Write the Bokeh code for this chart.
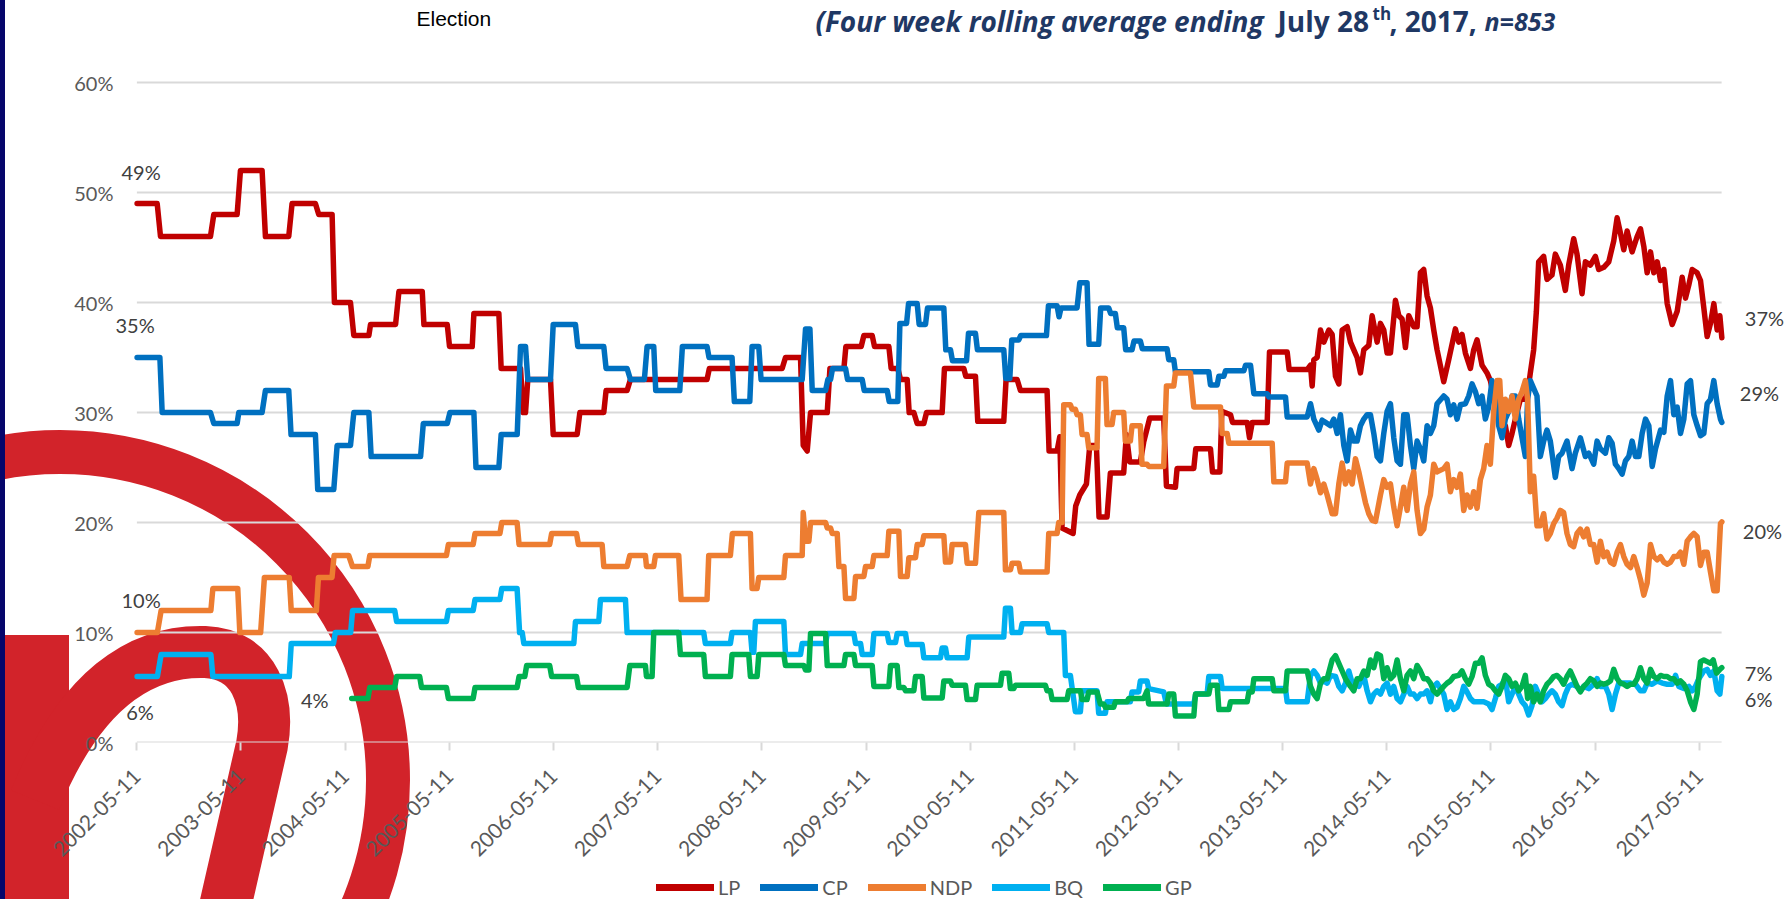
import math, base64
from datetime import datetime
from bokeh.plotting import figure
from bokeh.layouts import column
from bokeh.models import (Range1d, FixedTicker, DatetimeTickFormatter, PrintfTickFormatter,
                          Label, Legend, LegendItem)
from bokeh.embed import file_html
from bokeh.resources import INLINE

# ---------------- data (decimal year, percent) ----------------
LP_T = [2002.358,2002.551,2002.583,2003.063,2003.095,2003.319,2003.351,2003.559,2003.591,2003.815,
        2003.847,2004.071,2004.103,2004.231,2004.253,2004.407,2004.439,2004.583,2004.599,2004.839,
        2004.871,2005.095,2005.111,2005.335,2005.357,2005.575,2005.591,2005.831,2005.853,2006.039,
        2006.065,2006.087,2006.109,2006.327,2006.353,2006.583,2006.609,2006.839,2006.861,2007.063,
        2007.095,2007.831,2007.853,2008.551,2008.583,2008.727,2008.753,2008.791,2008.823,2008.983,
        2009.009,2009.143,2009.162,2009.309,2009.335,2009.415,2009.437,2009.575,2009.597,2009.661,
        2009.687,2009.751,2009.770,2009.815,2009.847,2009.911,2009.937,2010.087,2010.109,2010.295,
        2010.314,2010.407,2010.429,2010.679,2010.701,2010.807,2010.839,2011.095,2011.114,2011.191,
        2011.217,2011.239,2011.345,2011.370,2011.409,2011.473,2011.505,2011.569,2011.594,2011.671,
        2011.703,2011.831,2011.857,2011.889,2011.991,2012.023,2012.081,2012.215,2012.241,2012.327,
        2012.343,2012.503,2012.522,2012.663,2012.682,2012.753,2012.772,2012.855,2012.874,2013.015,
        2013.037,2013.063,2013.207,2013.229,2013.399,2013.418,2013.591,
        2013.623,2013.639,2013.655,2013.687,2013.719,2013.751,2013.799,2013.831,2013.863,2013.895,
        2013.927,2013.975,2014.007,2014.039,2014.071,2014.103,2014.135,2014.183,2014.215,2014.263,
        2014.295,2014.327,2014.359,2014.391,2014.439,2014.471,2014.503,2014.535,2014.567,2014.615,
        2014.647,2014.679,2014.711,2014.743,2014.775,2014.807,2014.839,2014.903,2014.951,2015.015,
        2015.047,2015.079,2015.111,2015.159,2015.191,2015.223,2015.271,2015.319,2015.351,2015.383,
        2015.431,2015.463,2015.495,2015.527,2015.559,2015.591,2015.639,2015.687,2015.719,2015.735,
        2015.767,2015.793,2015.815,2015.863,2015.895,2015.943,2015.975,2016.023,2016.071,2016.103,
        2016.151,2016.183,2016.231,2016.263,2016.311,2016.359,2016.391,2016.439,2016.487,2016.535,
        2016.567,2016.599,2016.631,2016.663,2016.711,2016.759,2016.791,2016.823,2016.855,2016.887,
        2016.919,2016.951,2016.983,2017.015,2017.047,2017.095,2017.143,2017.191,2017.223,2017.255,
        2017.287,2017.335,2017.367,2017.399,2017.431,2017.463,2017.495,2017.527,2017.553,2017.572]
LP_V = [49,49,46,46,48,48,52,52,46,46,
        49,49,48,48,40,40,37,37,38,38,
        41,41,38,38,36,36,39,39,34,34,
        30,30,33,33,28,28,30,30,32,32,
        33,33,34,34,35,35,27,26.5,30,30,
        34,34,36,36,37,37,36,36,34,34,
        33,33,30,30,29,29,30,30,34,34,
        33.3,33.3,29.2,29.2,33,33,32,32,26.5,26.5,
        27.8,19.5,19,21.5,22.5,23.5,27,27,20.5,20.5,
        24.5,24.5,28,25.5,25.5,27.3,29.5,29.5,23.3,23.2,
        24.9,24.9,26.7,26.7,24.6,24.6,30.1,29.8,29.1,29.1,
        27.7,29.1,29.1,35.5,35.5,33.9,33.9,
        34.3,32.4,34.8,35.0,37.5,36.4,37.5,37.1,33.3,32.6,
        37.5,37.8,36.4,35.7,35.0,33.6,35.7,36.1,38.8,36.4,
        38.1,37.5,35.4,35.4,40.2,38.8,38.5,35.9,38.8,37.8,
        37.8,42.7,43.0,40.6,39.5,37.5,35.7,32.8,34.8,37.6,
        36.4,37.1,35.4,34.0,35.7,36.6,34.3,33.6,32.9,31.5,
        29.4,28.1,28.8,27.0,28.1,29.4,31.2,31.2,32.5,33.6,
        35.7,39.2,43.7,44.2,42.1,42.5,44.4,43.4,41.1,43.4,
        45.8,44.4,40.8,43.7,43.4,44.2,43.0,43.2,43.7,45.6,
        47.7,46.3,44.8,46.5,44.6,46.0,46.7,45.1,42.7,44.6,
        42.7,43.7,42.0,43.0,39.9,38.0,39.2,42.3,40.4,41.6,
        43.0,42.7,42.0,39.5,36.9,38.1,39.9,37.5,38.8,36.8]

CP_T = [2002.358,2002.577,2002.599,2003.063,2003.095,2003.319,2003.335,2003.559,2003.591,2003.815,
        2003.837,2004.071,2004.093,2004.247,2004.279,2004.407,2004.439,2004.583,2004.605,2005.079,
        2005.105,2005.335,2005.361,2005.591,2005.611,2005.831,2005.853,2006.007,2006.039,2006.087,
        2006.109,2006.327,2006.353,2006.567,2006.589,2006.839,2006.861,2007.063,2007.095,2007.229,
        2007.255,2007.319,2007.338,2007.569,2007.594,2007.831,2007.850,2008.071,2008.093,2008.241,
        2008.263,2008.327,2008.349,2008.743,2008.775,2008.817,2008.839,2008.967,2008.989,2009.015,
        2009.034,2009.159,2009.178,2009.319,2009.338,2009.559,2009.578,2009.661,2009.681,2009.745,
        2009.764,2009.847,2009.866,2009.927,2009.946,2010.103,2010.122,2010.167,2010.186,2010.321,
        2010.340,2010.407,2010.426,2010.679,2010.698,2010.737,2010.756,2010.823,2010.842,2011.089,
        2011.108,2011.191,2011.210,2011.229,2011.383,2011.409,2011.479,2011.498,2011.591,2011.610,
        2011.687,2011.706,2011.751,2011.770,2011.831,2011.850,2011.911,2011.930,2011.991,2012.010,
        2012.247,2012.263,2012.311,2012.327,2012.647,2012.663,2012.727,2012.743,2012.791,2012.807,
        2012.983,2012.999,2013.047,2013.079,2013.207,2013.223,2013.383,2013.399,2013.591,
        2013.623,2013.655,2013.703,2013.735,2013.767,2013.815,2013.847,2013.879,2013.911,2013.943,
        2013.975,2014.007,2014.039,2014.071,2014.103,2014.135,2014.167,2014.199,2014.231,2014.263,
        2014.295,2014.327,2014.359,2014.391,2014.423,2014.455,2014.487,2014.519,2014.551,2014.583,
        2014.615,2014.647,2014.679,2014.711,2014.743,2014.775,2014.807,2014.839,2014.903,2014.935,
        2014.967,2014.999,2015.031,2015.063,2015.111,2015.143,2015.175,2015.207,2015.239,2015.271,
        2015.303,2015.335,2015.367,2015.399,2015.431,2015.463,2015.495,2015.527,2015.559,2015.591,
        2015.623,2015.655,2015.687,2015.709,2015.735,2015.767,2015.799,2015.831,2015.863,2015.895,
        2015.927,2015.975,2016.007,2016.039,2016.087,2016.135,2016.167,2016.215,2016.263,2016.295,
        2016.343,2016.375,2016.407,2016.455,2016.487,2016.519,2016.551,2016.583,2016.615,2016.647,
        2016.679,2016.711,2016.743,2016.775,2016.807,2016.839,2016.871,2016.903,2016.935,2016.983,
        2017.015,2017.047,2017.079,2017.111,2017.143,2017.175,2017.207,2017.239,2017.271,2017.303,
        2017.335,2017.367,2017.399,2017.431,2017.463,2017.495,2017.527,2017.559,2017.572]
CP_V = [35,35,30,30,29,29,30,30,32,32,
        28,28,23,23,27,27,30,30,26,26,
        29,29,30,30,25,25,28,28,36,36,
        33,33,38,38,36,36,34,34,33,33,
        36,36,32,32,36,36,35,35,31,31,
        36,36,33,33,37.6,37.6,32,32,33,33,
        34,34,33,33,32,32,31,31,38.1,38.1,
        39.9,39.9,38,38,39.5,39.5,35.7,35.7,34.7,34.7,
        37.2,37.2,35.7,35.7,33.1,33.1,36.6,36.6,37,37,
        39.7,39.7,38.7,39.5,39.5,41.8,41.8,36.2,36.2,39.5,
        39.5,39,39,37.7,37.7,35.7,35.7,36.5,36.5,35.8,
        35.8,34.8,34.8,33.7,33.7,32.5,32.5,33.3,33.3,33.8,
        33.8,34.3,34.3,31.7,31.7,31.4,31.4,29.6,29.6,
        30.8,29.4,28.4,29.3,29.1,28.8,29.4,28.1,29.8,27.0,
        25.6,28.4,27.4,27.4,28.8,29.4,29.8,29.8,28.1,26.0,
        25.6,28.1,30.1,30.8,27.7,25.6,25.3,29.8,29.8,27.0,
        24.9,27.4,26.7,25.6,28.8,28.1,28.8,30.8,31.5,31.2,
        29.8,30.7,29.4,30.7,30.8,31.5,32.6,31.9,30.8,31.5,
        29.4,30.5,32.9,31.5,28.8,27.7,29.4,30.1,31.5,31.5,
        29.4,27.7,26.0,31.2,32.9,32.2,31.5,26.0,27.4,28.4,
        27.4,24.1,26.0,26.3,27.4,24.9,26.3,27.7,26.0,26.3,
        25.3,27.4,26.7,26.3,27.7,27.2,25.3,24.9,24.4,25.6,
        26.0,27.4,26.0,26.0,28.1,29.4,28.8,25.1,26.7,28.4,
        28.2,31.5,32.9,29.8,30.5,28.1,29.4,32.6,32.9,29.8,
        28.8,27.9,28.1,30.8,31.2,32.9,30.8,29.4,29.1]

NDP_T = [2002.358,2002.553,2002.589,2003.067,2003.086,2003.325,2003.345,2003.545,2003.581,2003.820,
         2003.839,2004.080,2004.100,2004.230,2004.250,2004.390,2004.426,2004.574,2004.592,2005.327,
         2005.346,2005.584,2005.602,2005.841,2005.859,2006.006,2006.025,2006.319,2006.338,2006.577,
         2006.595,2006.823,2006.839,2007.063,2007.089,2007.239,2007.249,2007.319,2007.335,2007.559,
         2007.581,2007.831,2007.847,2008.055,2008.074,2008.247,2008.263,2008.311,2008.327,2008.567,
         2008.583,2008.743,2008.753,2008.775,2008.807,2008.823,2008.967,2008.983,2009.015,2009.031,
         2009.079,2009.095,2009.143,2009.159,2009.239,2009.255,2009.335,2009.351,2009.415,2009.431,
         2009.559,2009.575,2009.671,2009.687,2009.751,2009.767,2009.831,2009.847,2009.895,2009.911,
         2010.103,2010.119,2010.167,2010.183,2010.311,2010.327,2010.407,2010.439,2010.679,2010.695,
         2010.743,2010.759,2010.823,2010.839,2011.095,2011.111,2011.191,2011.207,2011.239,2011.255,
         2011.319,2011.335,2011.367,2011.383,2011.415,2011.431,2011.479,2011.495,2011.575,2011.591,
         2011.655,2011.671,2011.719,2011.735,2011.831,2011.847,2011.895,2011.911,2011.991,2012.007,
         2012.055,2012.071,2012.215,2012.241,2012.311,2012.327,2012.471,2012.503,2012.759,2012.775,
         2012.823,2012.839,2013.255,2013.271,2013.383,2013.399,2013.591,
         2013.623,2013.655,2013.687,2013.719,2013.751,2013.783,2013.831,2013.863,2013.895,2013.927,
         2013.959,2013.991,2014.023,2014.055,2014.087,2014.119,2014.151,2014.183,2014.215,2014.247,
         2014.295,2014.327,2014.359,2014.391,2014.423,2014.455,2014.487,2014.519,2014.551,2014.583,
         2014.615,2014.647,2014.679,2014.711,2014.743,2014.775,2014.807,2014.839,2014.903,2014.935,
         2014.967,2014.999,2015.031,2015.063,2015.095,2015.127,2015.159,2015.191,2015.223,2015.255,
         2015.287,2015.319,2015.351,2015.383,2015.415,2015.441,2015.463,2015.495,2015.527,2015.559,
         2015.591,2015.623,2015.655,2015.687,2015.709,2015.735,2015.767,2015.799,2015.831,2015.863,
         2015.895,2015.927,2015.959,2015.991,2016.023,2016.055,2016.087,2016.119,2016.151,2016.183,
         2016.215,2016.247,2016.279,2016.311,2016.343,2016.375,2016.407,2016.439,2016.471,2016.503,
         2016.535,2016.567,2016.599,2016.631,2016.663,2016.695,2016.727,2016.759,2016.791,2016.823,
         2016.855,2016.887,2016.919,2016.951,2016.983,2017.015,2017.047,2017.079,2017.111,2017.143,
         2017.175,2017.207,2017.239,2017.271,2017.303,2017.335,2017.367,2017.399,2017.431,2017.463,
         2017.495,2017.527,2017.559,2017.572]
NDP_V = [10,10,12,12,14,14,10,10,15,15,
         12,12,15,15,17,17,16,16,17,17,
         18,18,19,19,20,20,18,18,19,19,
         18,18,16,16,17,17,16,16,17,17,
         13,13,17,17,19,19,14,14,15,15,
         17,17,20.9,18.3,18.3,20,20,19.5,19.5,19,
         19,16,16,13.1,13.1,15.1,15.1,16,16,17,
         17,19.2,19.2,15.1,15.1,16.8,16.8,18,18,18.8,
         18.8,16.4,16.4,18,18,16.3,16.3,20.9,20.9,15.7,
         15.7,16.3,16.3,15.5,15.5,19,19,20,20,30.7,
         30.7,30.3,30.3,29.8,29.8,28,28,26.8,26.8,33.1,
         33.1,28.9,28.9,30,30,27.4,27.4,28.8,28.8,25.3,
         25.3,25.1,25.1,32.4,32.4,33.6,33.6,30.5,30.5,28.1,
         28.1,27.2,27.2,23.7,23.7,25.4,25.4,
         23.5,24.9,23.9,22.7,23.5,22.5,20.8,20.8,23.5,25.4,
         23.5,24.6,23.5,25.8,24.6,23.2,21.8,20.8,20.2,20.1,
         22.5,23.9,23.2,23.5,21.4,19.7,21.4,23.2,21.1,23.5,
         24.6,21.1,19.0,19.4,21.4,22.5,25.3,24.6,24.9,25.3,
         22.8,23.9,23.2,24.4,21.1,22.5,21.4,22.8,21.3,23.9,
         24.9,27.0,25.3,30.1,32.9,32.9,28.8,31.2,30.1,31.5,
         29.4,31.2,31.9,32.9,31.2,22.8,24.2,19.7,19.7,20.8,
         18.5,19.0,19.9,20.4,21.1,20.9,19.0,18.0,17.8,19.0,
         19.4,18.7,19.4,18.0,18.0,16.4,18.3,16.9,17.3,16.4,
         16.2,17.3,18.0,16.9,16.2,15.9,16.9,15.9,14.8,13.4,
         14.5,18.0,16.9,16.6,16.9,16.4,16.2,16.4,16.9,16.9,
         17.3,16.2,18.3,18.7,19.0,18.7,16.1,17.3,17.3,15.5,
         13.8,13.8,19.9,20.05]

BQ_T = [2002.358,2002.553,2002.589,2003.067,2003.086,2003.820,2003.839,2004.244,2004.262,2004.409,
        2004.427,2004.831,2004.849,2005.327,2005.346,2005.584,2005.602,2005.841,2005.859,2006.006,
        2006.030,2006.055,2006.071,2006.551,2006.567,2006.791,2006.807,2007.047,2007.063,2007.799,
        2007.815,2008.055,2008.071,2008.247,2008.263,2008.279,2008.295,2008.567,2008.583,2008.727,
        2008.743,2008.967,2008.983,2009.239,2009.255,2009.303,2009.319,2009.415,2009.431,2009.559,
        2009.575,2009.639,2009.655,2009.735,2009.751,2009.895,2009.911,2010.071,2010.087,2010.119,
        2010.135,2010.327,2010.343,2010.679,2010.695,2010.743,2010.759,2010.839,2010.855,2011.095,
        2011.111,2011.255,2011.271,2011.319,2011.367,2011.415,2011.431,2011.575,2011.591,2011.655,
        2011.671,2011.895,2011.911,2011.975,2011.991,2012.055,2012.071,2012.215,2012.241,2012.503,
        2012.522,2012.631,2012.647,2012.759,2012.775,2013.383,2013.399,2013.591,
        2013.623,2013.655,2013.687,2013.719,2013.751,2013.783,2013.815,2013.863,2013.895,2013.927,
        2013.959,2013.991,2014.023,2014.055,2014.087,2014.135,2014.167,2014.199,2014.231,2014.263,
        2014.295,2014.327,2014.359,2014.391,2014.423,2014.455,2014.487,2014.519,2014.551,2014.583,
        2014.615,2014.647,2014.679,2014.711,2014.743,2014.775,2014.807,2014.839,2014.903,2014.935,
        2014.967,2014.999,2015.031,2015.063,2015.095,2015.127,2015.159,2015.191,2015.239,2015.287,
        2015.335,2015.367,2015.399,2015.431,2015.463,2015.495,2015.527,2015.559,2015.591,2015.623,
        2015.655,2015.687,2015.719,2015.751,2015.783,2015.815,2015.847,2015.879,2015.911,2015.943,
        2015.975,2016.007,2016.039,2016.071,2016.103,2016.135,2016.183,2016.215,2016.247,2016.295,
        2016.343,2016.375,2016.407,2016.455,2016.487,2016.519,2016.551,2016.583,2016.615,2016.663,
        2016.695,2016.743,2016.791,2016.823,2016.855,2016.903,2016.951,2016.999,2017.047,2017.095,
        2017.127,2017.159,2017.207,2017.255,2017.287,2017.319,2017.351,2017.399,2017.431,2017.463,
        2017.495,2017.527,2017.553,2017.572]
BQ_V = [6,6,8,8,6,6,9,9,10,10,
        12,12,11,11,12,12,13,13,14,14,
        10,10,9,9,11,11,13,13,10,10,
        9,9,10,10,8.2,8.2,11,11,8,8,
        9,9,9.9,9.9,9,9,8,8,9.9,9.9,
        9.1,9.1,9.9,9.9,8.9,8.9,7.7,7.7,8.6,8.6,
        7.7,7.7,9.6,9.6,12.2,12.2,10,10,10.8,10.8,
        10,10,6.1,6.1,2.8,2.8,4.7,4.7,2.65,2.65,
        3.7,3.7,4.6,4.6,5.6,5.6,4.9,4.6,3.5,3.5,
        4.4,4.4,6,6,4.9,4.9,3.7,3.7,
        6.1,6.5,6.1,5.4,5.6,5.4,6.1,6.0,5.1,4.7,
        5.4,6.5,5.4,5.4,5.1,6.1,4.7,3.7,4.4,4.7,
        4.4,5.1,5.4,4.4,5.1,4.0,3.7,4.4,5.1,4.4,
        4.4,4.0,4.4,4.4,4.7,3.7,5.1,5.4,4.4,3.0,
        3.7,3.0,3.2,4.0,5.1,4.6,4.0,3.7,3.7,3.7,
        3.5,3.0,4.0,5.1,5.3,5.8,3.7,4.4,5.1,4.4,
        3.7,3.35,2.5,3.35,5.1,4.4,3.7,4.0,4.4,4.7,
        4.4,3.7,3.35,4.4,5.1,5.3,5.1,4.7,5.1,4.9,
        5.3,5.8,5.1,5.1,4.4,3.0,4.4,5.4,5.4,5.4,
        5.4,5.3,4.7,4.7,5.4,5.3,5.6,5.4,5.3,5.3,
        6.1,5.1,4.9,5.1,4.7,5.1,5.8,6.5,6.65,6.1,
        6.5,4.7,4.4,6.0]

GP_T = [2004.419,2004.574,2004.592,2004.831,2004.849,2005.070,2005.088,2005.327,2005.346,2005.584,
        2005.602,2006.006,2006.025,2006.080,2006.098,2006.319,2006.338,2006.577,2006.595,2007.063,
        2007.089,2007.239,2007.249,2007.303,2007.319,2007.559,2007.575,2007.799,2007.815,2008.055,
        2008.071,2008.231,2008.247,2008.311,2008.327,2008.567,2008.583,2008.759,2008.775,2008.807,
        2008.823,2008.967,2008.983,2009.143,2009.159,2009.239,2009.255,2009.415,2009.431,2009.575,
        2009.591,2009.655,2009.671,2009.719,2009.735,2009.815,2009.831,2009.895,2009.911,2010.087,
        2010.103,2010.167,2010.183,2010.311,2010.327,2010.407,2010.423,2010.647,2010.663,2010.727,
        2010.743,2010.775,2010.791,2011.079,2011.095,2011.127,2011.143,2011.287,2011.303,2011.415,
        2011.431,2011.479,2011.495,2011.575,2011.607,2011.639,2011.655,2011.735,2011.751,2011.863,
        2011.879,2012.023,2012.055,2012.071,2012.247,2012.263,2012.311,2012.327,2012.503,2012.519,
        2012.647,2012.663,2012.727,2012.743,2012.839,2012.855,2013.015,2013.031,2013.063,2013.079,
        2013.255,2013.271,2013.383,2013.399,2013.591,
        2013.623,2013.655,2013.687,2013.719,2013.751,2013.783,2013.831,2013.863,2013.895,2013.927,
        2013.959,2014.007,2014.039,2014.071,2014.103,2014.135,2014.167,2014.199,2014.231,2014.263,
        2014.295,2014.327,2014.359,2014.391,2014.423,2014.455,2014.487,2014.519,2014.551,2014.583,
        2014.615,2014.647,2014.679,2014.711,2014.743,2014.775,2014.807,2014.839,2014.903,2014.935,
        2014.967,2014.999,2015.047,2015.079,2015.111,2015.143,2015.175,2015.207,2015.239,2015.271,
        2015.303,2015.335,2015.367,2015.399,2015.431,2015.463,2015.495,2015.527,2015.559,2015.591,
        2015.623,2015.655,2015.687,2015.709,2015.735,2015.767,2015.799,2015.831,2015.863,2015.895,
        2015.927,2015.959,2015.991,2016.023,2016.055,2016.087,2016.119,2016.151,2016.183,2016.215,
        2016.247,2016.279,2016.311,2016.343,2016.375,2016.407,2016.439,2016.471,2016.503,2016.535,
        2016.567,2016.599,2016.631,2016.663,2016.695,2016.727,2016.759,2016.791,2016.823,2016.855,
        2016.887,2016.919,2016.951,2016.983,2017.015,2017.047,2017.079,2017.111,2017.143,2017.175,
        2017.207,2017.239,2017.271,2017.303,2017.335,2017.367,2017.399,2017.431,2017.463,2017.489,
        2017.521,2017.553,2017.572]
GP_V = [4,4,5,5,6,6,5,5,4,4,
        5,5,6,6,7,7,6,6,5,5,
        7,7,6,6,10,10,8,8,6,6,
        8,8,6,6,8,8,7,7,6.6,6.6,
        9.9,9.9,7,7,8,8,7,7,5.1,5.1,
        7,7,5,5,4.7,4.7,6,6,4.05,4.05,
        5.6,5.6,5.2,5.2,3.9,3.9,5.2,5.2,6.3,6.3,
        4.9,4.9,5.2,5.2,4.7,4.7,3.9,3.9,4.7,4.7,
        3.9,3.9,4.6,4.6,3.5,3.5,3.2,3.2,3.7,3.7,
        4.0,4.0,4.7,3.5,3.5,4.4,4.4,2.4,2.4,4.4,
        4.4,5.2,5.2,3.0,3.0,3.7,3.7,4.6,4.6,5.8,
        5.8,4.7,4.7,6.5,6.5,
        5.1,4.4,4.0,5.4,5.8,5.8,7.5,7.9,7.2,6.5,
        5.8,5.1,4.7,5.8,5.8,6.5,6.1,7.5,6.8,8.05,
        7.9,5.8,6.8,5.8,6.1,7.5,5.8,4.7,6.1,6.5,
        5.8,7.0,6.5,5.8,5.8,5.4,4.7,4.4,5.1,5.4,
        5.6,6.0,6.1,6.5,5.8,5.3,6.0,7.2,7.2,7.7,
        6.1,5.3,5.1,4.7,4.4,5.1,6.1,5.8,5.1,5.4,
        4.7,5.1,6.1,4.0,5.1,3.7,4.4,3.7,4.7,5.3,
        5.6,6.0,6.1,5.8,5.3,6.0,6.5,5.8,5.1,4.6,
        5.1,5.4,5.8,5.6,5.1,5.4,5.3,5.4,5.6,6.65,
        5.8,5.4,5.3,5.1,5.3,5.3,5.8,6.8,5.8,5.4,
        6.65,6.0,5.8,6.1,6.0,6.0,5.8,5.8,5.4,5.6,
        5.3,4.7,3.7,3.0,4.4,7.35,7.5,7.35,7.2,7.5,
        6.3,6.65,6.8]

SERIES = ["LP", "CP", "NDP", "BQ", "GP"]
COLORS = ["#C00000", "#0070C0", "#ED7D31", "#00B0F0", "#00B050"]
TICK_YEARS = list(range(2002, 2018))
Y_TICKS = [0, 10, 20, 30, 40, 50, 60]
AXIS_START = datetime(2002, 5, 11)
AXIS_END = datetime(2017, 7, 28)

# ---------------- helpers ----------------
def to_dt(t):
    y = int(t)
    a, b = datetime(y, 1, 1), datetime(y + 1, 1, 1)
    return a + (b - a) * (t - y)

def ms(d):
    return (d - datetime(1970, 1, 1)).total_seconds() * 1000.0

FONT = "Lato"
GREY = "#595959"

W, HTOT = 1787, 899
BL, BB = 114, 133                  # left / bottom borders of the main plot
FH = 742                           # frame height (0% line at y = 742)
H = FH + BB                        # main plot height
H2 = HTOT - H                      # legend strip height
FW = W - BL
PX_YEAR, PX_PCT = 104.16, 11.0
Y0 = 2002.358 - 22.6 / PX_YEAR     # frame starts a little left of the first tick

p = figure(width=W, height=H, x_axis_type="datetime", output_backend="svg",
           toolbar_location=None,
           x_range=Range1d(to_dt(Y0), to_dt(Y0 + FW / PX_YEAR)),
           y_range=Range1d(0, FH / PX_PCT),
           min_border_left=BL, min_border_right=0, min_border_top=0, min_border_bottom=BB)
p.background_fill_color = None
p.border_fill_color = None
p.outline_line_color = None

# logo watermark + navy edge drawn as CSS background behind the transparent canvases
LOGO = ('<svg xmlns="http://www.w3.org/2000/svg" width="1787" height="899">'
        '<circle cx="60" cy="780" r="328" fill="none" stroke="#D2232A" stroke-width="44"/>'
        '<rect x="0" y="635" width="69" height="264" fill="#D2232A"/>'
        '<path d="M 35 800 C 80 690, 140 650, 205 652 C 255 654, 270 700, 262 745 L 222 920" '
        'fill="none" stroke="#D2232A" stroke-width="52"/>'
        '<rect x="0" y="0" width="5" height="899" fill="#06066B"/>'
        '</svg>')
b64 = base64.b64encode(LOGO.encode()).decode()
logo_css = f"url(data:image/svg+xml;base64,{b64})"
p.styles = {"background-image": logo_css, "background-repeat": "no-repeat",
            "background-position": "0px 0px"}

# horizontal gridlines (span only the dated period)
p.segment(x0=[AXIS_START] * len(Y_TICKS), y0=Y_TICKS, x1=[AXIS_END] * len(Y_TICKS), y1=Y_TICKS,
          line_color="#d9d9d9", line_width=2)

xa = p.xaxis[0]
xa.ticker = FixedTicker(ticks=[ms(datetime(y, 5, 11)) for y in TICK_YEARS])
fmt = "%Y-%m-%d"
xa.formatter = DatetimeTickFormatter(microseconds=fmt, milliseconds=fmt, seconds=fmt, minsec=fmt,
                                     minutes=fmt, hourmin=fmt, hours=fmt, days=fmt, months=fmt,
                                     years=fmt, strip_leading_zeros=False)
xa.major_label_orientation = math.pi / 4
xa.axis_line_color = None
xa.major_tick_line_color = "#d9d9d9"
xa.major_tick_line_width = 2
xa.major_tick_in = 0
xa.major_tick_out = 8
xa.minor_tick_line_color = None
xa.major_label_text_font = FONT
xa.major_label_text_font_size = "21px"
xa.major_label_text_color = GREY
xa.major_label_standoff = 22

ya = p.yaxis[0]
ya.ticker = FixedTicker(ticks=Y_TICKS)
ya.formatter = PrintfTickFormatter(format="%d%%")
ya.axis_line_color = None
ya.major_tick_line_color = None
ya.minor_tick_line_color = None
ya.major_tick_in = 0
ya.major_tick_out = 0
ya.major_label_text_font = FONT
ya.major_label_text_font_size = "20px"
ya.major_label_text_color = GREY
ya.major_label_standoff = 1

p.xgrid.visible = False
p.ygrid.visible = False

data = {"LP": (LP_T, LP_V), "CP": (CP_T, CP_V), "NDP": (NDP_T, NDP_V),
        "BQ": (BQ_T, BQ_V), "GP": (GP_T, GP_V)}
for name, col in zip(SERIES, COLORS):
    t, v = data[name]
    p.line([to_dt(x) for x in t], v, line_color=col, line_width=5.5,
           line_join="round", line_cap="round")

LAB = "#404040"
def lab(x, y, text, xo, yo, align):
    p.add_layout(Label(x=x, y=y, text=text, x_offset=xo, y_offset=yo, text_align=align,
                       text_baseline="middle", text_font=FONT, text_font_size="20px",
                       text_color=LAB))

# start labels
starts = {"LP": (4, 32), "CP": (-2, 33), "NDP": (4, 33), "BQ": (3, -35), "GP": (-37, -1)}
for name in SERIES:
    t, v = data[name]
    xo, yo = starts[name]
    lab(ms(to_dt(t[0])), v[0], f"{round(v[0])}%", xo, yo, "center")
# end labels
ends = {"LP": (23, 20), "CP": (18, 29), "NDP": (21, -9), "BQ": (23, -22), "GP": (23, -5)}
for name in SERIES:
    t, v = data[name]
    xo, yo = ends[name]
    lab(ms(to_dt(t[-1])), v[-1], f"{round(v[-1])}%", xo, yo, "left")

# header texts (screen units measured from the frame's bottom-left corner)
def head(px, py, text, font, size, style, color):
    p.add_layout(Label(x=px - BL, y=FH - py,
                       x_units="screen", y_units="screen", text=text,
                       text_align="left", text_baseline="middle", text_font=font,
                       text_font_size=size, text_font_style=style, text_color=color))

NAVY = "#1F3864"
head(416, 18, "Election", "Liberation Sans", "21px", "normal", "#000000")
head(815, 20, "(Four week rolling average ending", "Open Sans", "28px", "bold italic", NAVY)
head(1277, 20, "July 28", "Open Sans", "28px", "bold", NAVY)
head(1372, 13, "th", "Open Sans", "17px", "bold", NAVY)
head(1389, 20, ", 2017,", "Open Sans", "28px", "bold", NAVY)
head(1484, 20, "n=853", "Open Sans", "25px", "bold italic", NAVY)

# ---------------- legend strip under the chart ----------------
p2 = figure(width=W, height=H2, output_backend="svg", toolbar_location=None,
            x_range=Range1d(0, 1), y_range=Range1d(0, 1), min_border=0)
p2.axis.visible = False
p2.grid.visible = False
p2.background_fill_color = None
p2.border_fill_color = None
p2.outline_line_color = None
p2.styles = {"background-image": logo_css, "background-repeat": "no-repeat",
             "background-position": f"0px -{H}px"}
items = []
for name, col in zip(SERIES, COLORS):
    # key glyphs only: the points lie outside the strip's range, so nothing else is drawn
    r = p2.line(x=[-2, -1], y=[-2, -1], line_color=col, line_width=7, line_cap="round")
    items.append(LegendItem(label=name, renderers=[r]))
# the column aligns this strip's frame with the chart's frame (left edge at x = BL)
legend = Legend(items=items, orientation="horizontal", location=(656 - BL, 0),
                glyph_width=58, glyph_height=H2, label_height=H2, label_standoff=4, spacing=20,
                padding=0, margin=0, border_line_color=None, background_fill_color=None,
                label_text_font=FONT, label_text_font_size="20px", label_text_color=GREY)
p2.add_layout(legend)

layout = column(p, p2, spacing=0)
open("out.html", "w").write(file_html(layout, INLINE))
